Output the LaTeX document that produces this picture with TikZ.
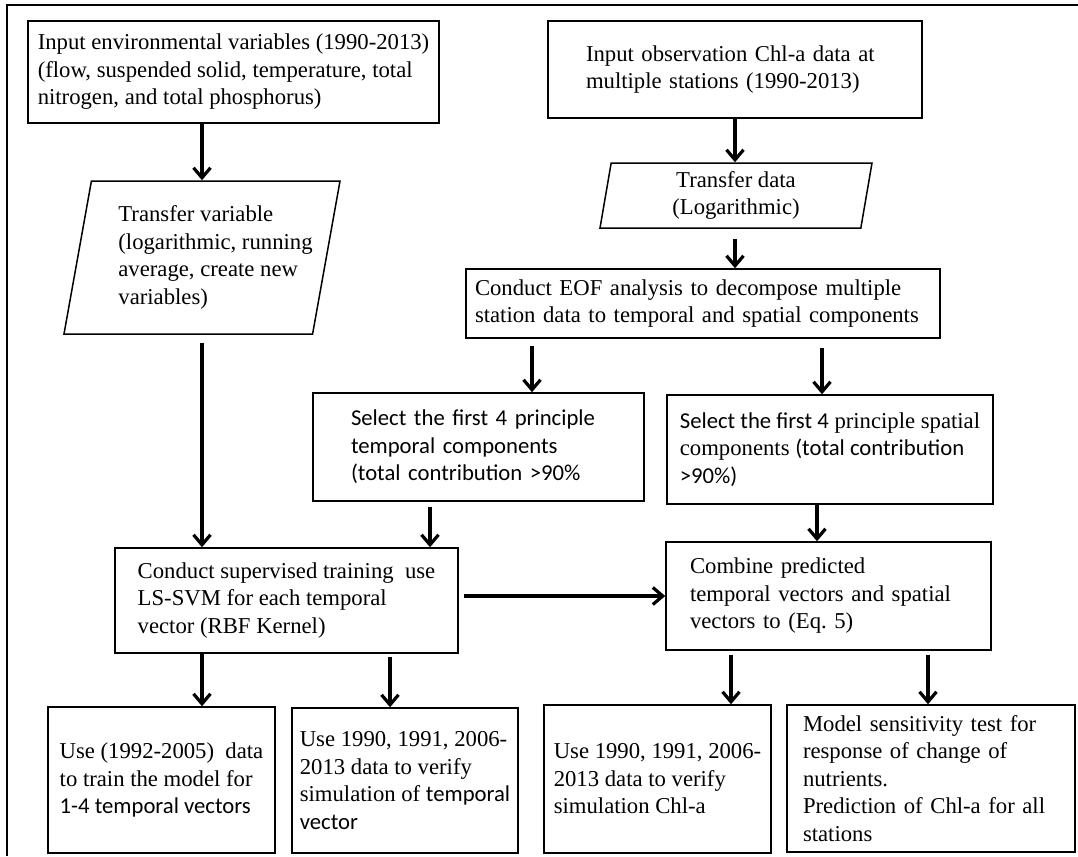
\documentclass[tikz,border=0pt]{standalone}
\usepackage{fontspec}
\setmainfont{Liberation Serif}
\newfontfamily\calfont{Carlito}
\usetikzlibrary{shapes.geometric,arrows.meta}
\newcommand{\clb}[1]{{\calfont #1}}

\begin{document}
\begin{tikzpicture}[x=1pt,y=-1pt,font=\fontsize{22.7}{27.5}\selectfont,
  >={Straight Barb[length=10pt,width=17pt]}]

%
% Styles
%
\tikzstyle{box} = [rectangle,draw,line width=1.5pt,inner sep=0pt,align=left]
\tikzstyle{io} = [trapezium,trapezium stretches body,draw,line width=1.5pt,inner sep=0pt]
\tikzstyle{flow} = [->,line width=3.2pt]

\useasboundingbox (0,0) rectangle (1078,856);
\draw[line width=1.5pt] (7,856) -- (7,5) -- (1078,5);

\node[box,minimum width=411pt,minimum height=102pt] (env) at (233.5,72)
  {Input environmental variables (1990-2013)\\(flow, suspended solid, temperature, total\\nitrogen, and total phosphorus)};
\node[io,trapezium left angle=76,trapezium right angle=104,minimum width=274pt,minimum height=153pt] (tv) at (202,257.5)
  {\begin{tabular}{@{\hspace{27pt}}l@{}}Transfer variable\\(logarithmic, running\\average, create new\\variables)\end{tabular}};
\node[box,minimum width=374pt,minimum height=97pt,text width=298pt] (obs) at (735,69.5)
  {Input observation Chl-a data at\\multiple stations (1990-2013)};
\node[io,trapezium left angle=77,trapezium right angle=103,minimum width=272pt,minimum height=65pt,
  align=center] (td) at (736,195.5)
  {Transfer data\\(Logarithmic)};
\node[box,minimum width=474pt,minimum height=69pt,text width=456pt] (eof) at (703,303.5)
  {Conduct EOF analysis to decompose multiple\\station data to temporal and spatial components};
\node[box,minimum width=331pt,minimum height=108pt,text width=255pt] (sel1) at (478.5,447)
  {\calfont Select the first 4 principle\\temporal components\\(total contribution >90\%};
\node[box,minimum width=326pt,minimum height=109pt] (sel2) at (830,449.5)
  {\clb{Select the first 4} principle spatial\\components \clb{(total contribution}\\\clb{>90\%)}};
\node[box,minimum width=343pt,minimum height=105pt] (svm) at (286.5,600.5)
  {Conduct supervised training\ \ use\\LS-SVM for each temporal\\vector (RBF Kernel)};
\node[box,minimum width=325pt,minimum height=108pt,text width=277pt] (comb) at (828.5,596)
  {Combine predicted\\temporal vectors and spatial\\vectors to (Eq.~5)};
\node[box,minimum width=227pt,minimum height=146pt] (b1) at (161.5,780)
  {Use (1992-2005)\ \ data\\to train the model for\\\clb{1-4 temporal vectors}};
\node[box,minimum width=226pt,minimum height=145pt] (b2) at (405,780.5)
  {Use 1990, 1991, 2006-\\2013 data to verify\\simulation of \clb{temporal}\\\clb{vector}};
\node[box,minimum width=227pt,minimum height=148pt] (b3) at (657.5,779)
  {Use 1990, 1991, 2006-\\2013 data to verify\\simulation Chl-a};
\node[box,minimum width=288pt,minimum height=147pt,text width=256pt] (b4) at (931,778.5)
  {Model sensitivity test for\\response of change of\\nutrients.\\Prediction of Chl-a for all\\stations};

\draw[flow] (env.south -| tv.center) -- (tv.center |- tv.north);
\draw[flow] ([yshift=-8pt]tv.center |- tv.south) -- (tv.center |- svm.north);
\draw[flow] (obs.south) -- (obs.south |- td.north);
\draw[flow] ([yshift=-10pt]obs.south |- td.south) -- (obs.south |- eof.north);
\draw[flow] ([xshift=-171pt,yshift=-7pt]eof.south) -- ([xshift=-171pt]eof.south |- sel1.north);
\draw[flow] ([xshift=119pt,yshift=-9pt]eof.south) -- ([xshift=119pt]eof.south |- sel2.north);
\draw[flow] ([xshift=-48.5pt,yshift=-5pt]sel1.south) -- ([xshift=-48.5pt]sel1.south |- svm.north);
\draw[flow] ([xshift=-13pt]sel2.south) -- ([xshift=-13pt]sel2.south |- comb.north);
\draw[flow] ([xshift=5pt]svm.east |- comb.west) -- (comb.west);
\draw[flow] ([xshift=-84.5pt]svm.south) -- ([xshift=-84.5pt]svm.south |- b1.north);
\draw[flow] ([xshift=103.5pt,yshift=-3pt]svm.south) -- ([xshift=103.5pt]svm.south |- b2.north);
\draw[flow] ([xshift=-97.5pt,yshift=-4pt]comb.south) -- ([xshift=-97.5pt]comb.south |- b3.north);
\draw[flow] ([xshift=99.5pt,yshift=-4pt]comb.south) -- ([xshift=99.5pt]comb.south |- b4.north);

\end{tikzpicture}
\end{document}
